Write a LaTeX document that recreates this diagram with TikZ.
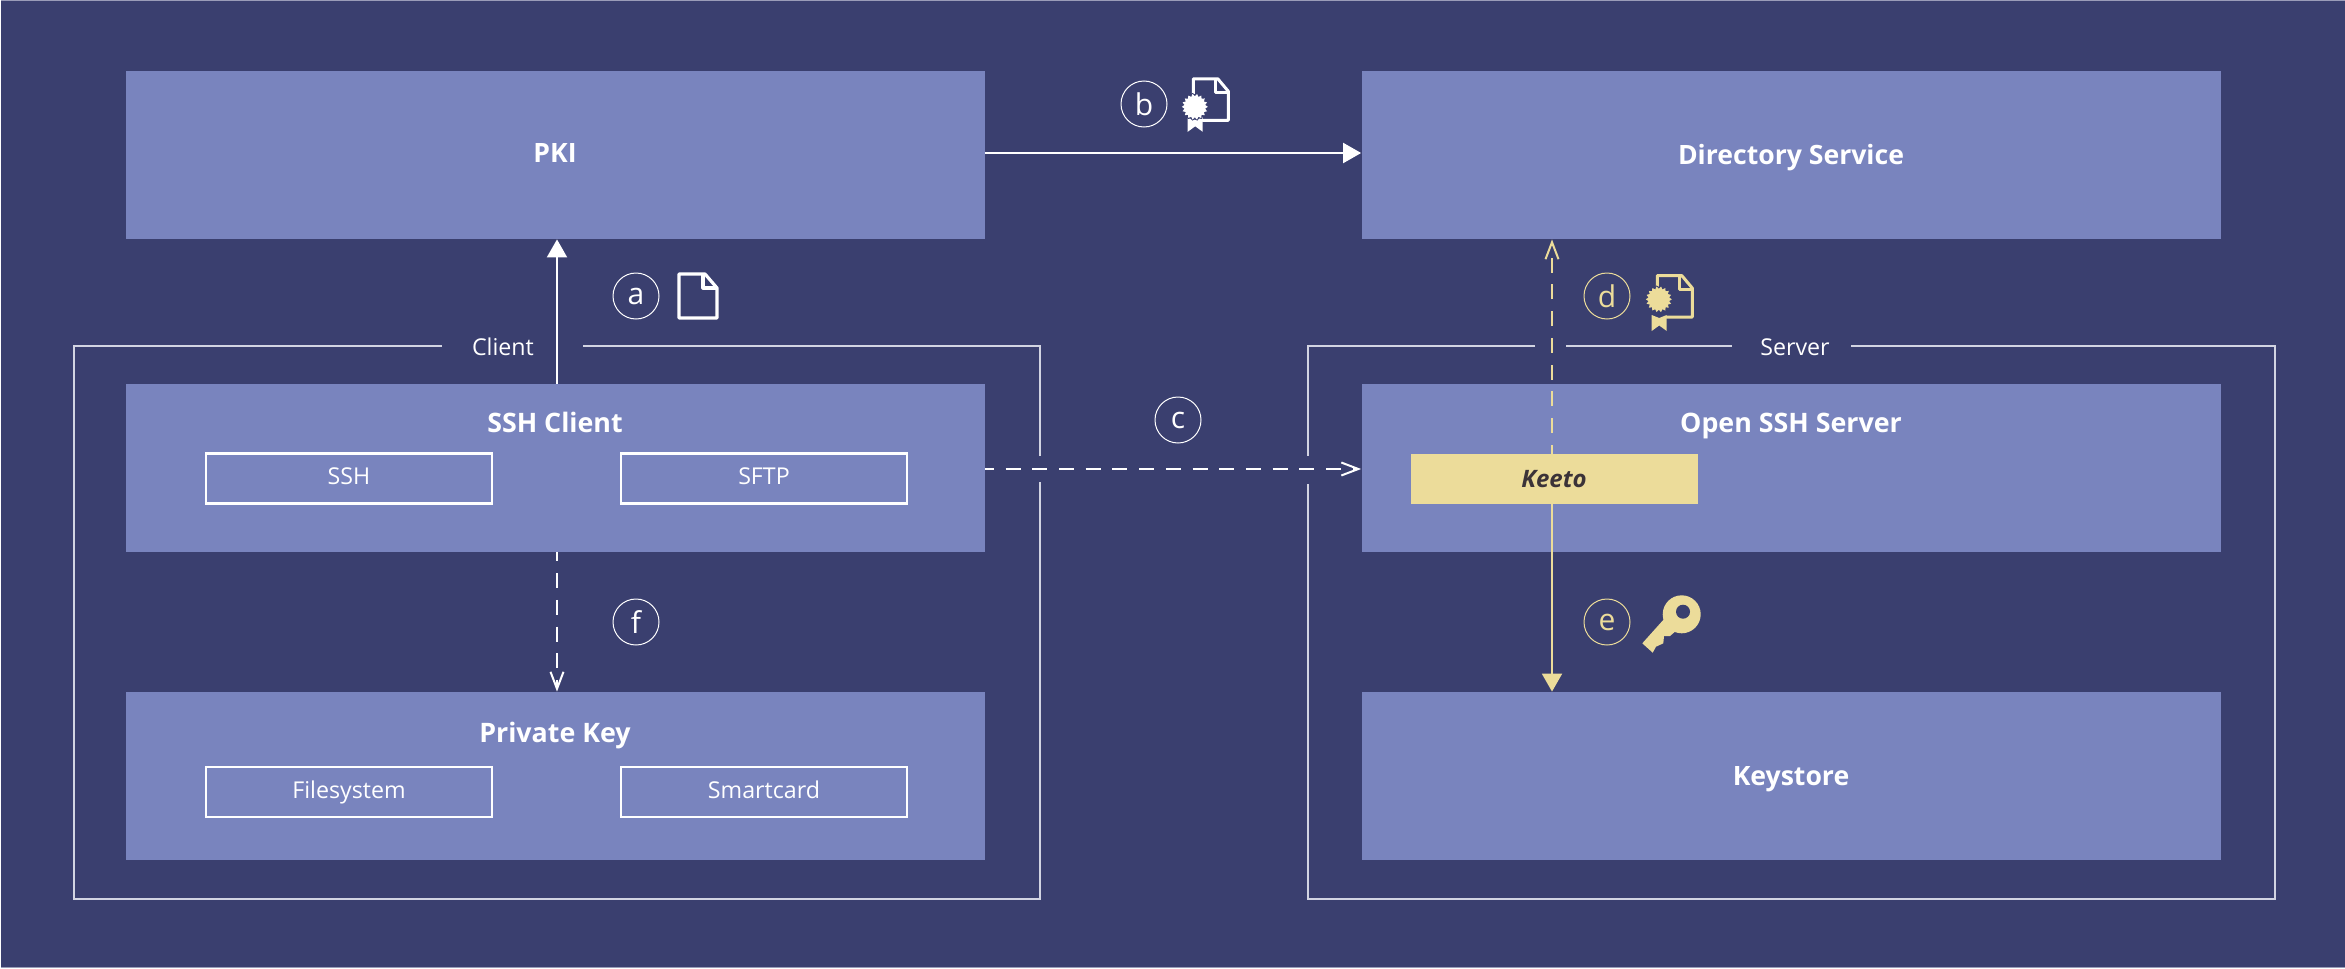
\documentclass[tikz,border=0pt]{standalone}
\usepackage{fontspec}
\setmainfont{Open Sans}
\usetikzlibrary{arrows.meta}
\definecolor{bgc}{HTML}{3A3F6F}
\definecolor{boxc}{HTML}{7984BE}
\definecolor{yel}{HTML}{ECDC9A}
\definecolor{framec}{HTML}{D2D4E2}
\definecolor{keetotxt}{HTML}{3B3338}
\definecolor{edgec}{HTML}{9A9CB8}
\newcommand{\sealshape}[5]{% colour cx cy outer inner
  \fill[#1] ({#2+#4},#3)
    \foreach \i in {1,...,35}{ -- ({#2+(iseven(\i)?#4:#5)*cos(\i*10)},{#3+(iseven(\i)?#4:#5)*sin(\i*10)}) } -- cycle;}
\newcommand{\certicon}[6]{% x y colour sealdy ribtop ribbottom
  \begin{scope}[shift={(#1,#2)}]
    \draw[#3,line width=1.5pt,line join=round,line cap=round]
      (0,16) -- (0,0) -- (24.5,0) -- (35,12.5) -- (35,41.5) -- (9,41.5);
    \draw[#3,line width=1.5pt,line join=round] (22.5,0) -- (22.5,14) -- (35,14);
    \fill[#3] (-5.6,#5) -- (1.9,{#5+3}) -- (9.4,#5) -- (9.4,#6) -- (1.9,{#6-5.5}) -- (-5.6,#6) -- cycle;
    \sealshape{bgc}{1.5}{#4}{14}{12.5}
    \sealshape{#3}{1.5}{#4}{13}{10.5}
  \end{scope}}
\tikzset{
  x=0.5pt,y=-0.5pt,
  box/.style={fill=boxc,minimum width=429.5pt,minimum height=84pt,inner sep=0pt,text=white,
    text height=11.25pt,text depth=1.75pt,
    font=\fontsize{13.3pt}{16pt}\bfseries\selectfont},
  title/.style={inner sep=0pt,text=white,text height=11.25pt,text depth=1.75pt,
    font=\fontsize{13.4pt}{16pt}\bfseries\selectfont},
  inner/.style={draw=white,line width=1.2pt,minimum width=143pt,minimum height=25pt,inner sep=0pt,
    text=white,font=\fontsize{11.6pt}{13pt}\selectfont,text height=8.5pt,text depth=2.5pt},
  framelabel/.style={inner sep=0pt,text=white,font=\fontsize{11.6pt}{13pt}\selectfont},
  framel/.style={draw=framec,line width=0.65pt},
  badge/.style={circle,draw=#1,line width=0.5pt,minimum size=23pt,inner sep=0pt,text=#1,
    font=\fontsize{15pt}{16pt}\selectfont},
  flow/.style={line width=1pt,draw=#1,-{Triangle[length=9pt,width=10pt,fill=#1]}},
  dflow/.style={line width=1pt,draw=#1,dash pattern=on 7.5pt off 5.85pt,dash phase=3pt,
    -{Straight Barb[length=8.5pt,width=6.5pt,line width=1pt,color=#1]}},
}
\begin{document}
\begin{tikzpicture}
\useasboundingbox (0,0) rectangle (2345,969);
\fill[bgc] (1,1) rectangle (2345,967);
\fill[edgec] (1,0) rectangle (2345,1);
\fill[edgec] (1,967) rectangle (2345,968);
% frames
\draw[framel] (442,346) -- (74,346) -- (74,899) -- (1040,899) -- (1040,482);
\draw[framel] (1040,456) -- (1040,346) -- (583,346);
\draw[framel] (1535,346) -- (1308,346) -- (1308,456);
\draw[framel] (1308,484) -- (1308,899) -- (2275,899) -- (2275,346) -- (1851,346);
\draw[framel] (1732,346) -- (1566,346);
\node[framelabel] (clientlbl) at (503,347) {Client};
\node[framelabel] (serverlbl) at (1795,347) {Server};
% boxes
\node[box,text height=10pt,text depth=3pt] (pki) at (555,155) {PKI};
\node[box] (dir) at (1791,155) {Directory Service};
\node[box] (ssh) at (555,468) {};
\node[box] (oss) at (1791,468) {};
\node[box] (pk) at (555,776) {};
\node[box] (ks) at (1791,776) {Keystore};
\node[title] (sshT) at (555,423) {SSH Client};
\node[title] (ossT) at (1791,423) {Open SSH Server};
\node[title] (pkT) at (555,733) {Private Key};
\node[inner] (i1) at (349,478.5) {SSH};
\node[inner] (i2) at (764,478.5) {SFTP};
\node[inner] (i3) at (349,792) {Filesystem};
\node[inner] (i4) at (764,792) {Smartcard};
\node[fill=yel,minimum width=143.5pt,minimum height=25pt,inner sep=0pt,text=keetotxt,
  font=\fontsize{12pt}{14pt}\bfseries\itshape\selectfont] (keeto) at (1554,479) {Keeto};
% connectors
\coordinate (ax) at (557,0);
\coordinate (dx) at (1552,0);
\coordinate (cy) at (0,469);
\coordinate (by) at (0,153);
\draw[flow=white] (ax |- ssh.north) -- (ax |- pki.south);
\draw[flow=white] (pki.east |- by) -- (dir.west |- by);
\draw[dflow=white] (ssh.east |- cy) -- (oss.west |- cy);
\draw[dflow=white] (ax |- ssh.south) -- (ax |- pk.north);
\draw[dflow=yel] (dx |- keeto.north) -- (dx |- dir.south);
\draw[flow=yel] (dx |- keeto.south) -- (dx |- ks.north);
% badges
\node[badge=white] (a) at (636,296) {a};
\node[badge=white] (b) at (1144,104) {b};
\node[badge=white] (c) at (1178,420) {c};
\node[badge=yel] (d) at (1607,296) {d};
\node[badge=yel] (e) at (1607,622) {e};
\node[badge=white] (f) at (636,622) {f};
% plain document icon
\draw[white,line width=1.6pt,line join=round]
  (679,274) -- (705,274) -- (717,288) -- (717,318) -- (679,318) -- cycle;
\draw[white,line width=1.6pt,line join=round] (703,274) -- (703,288) -- (717,288);
% certificate icons
\certicon{1193.3}{78.8}{white}{28}{38}{53}
\certicon{1657.3}{275.6}{yel}{23.7}{39.4}{55.4}
% key
\fill[yel] (1681.7,614.3) circle[radius=19];
\fill[yel] (1665,618) -- (1642.3,643.3) -- (1652.7,652.7) -- (1656,646.7) -- (1663.3,643.3)
  -- (1664,636) -- (1670,636) -- (1677,630) -- cycle;
\fill[bgc] (1683,611.7) circle[radius=7];
\end{tikzpicture}
\end{document}
